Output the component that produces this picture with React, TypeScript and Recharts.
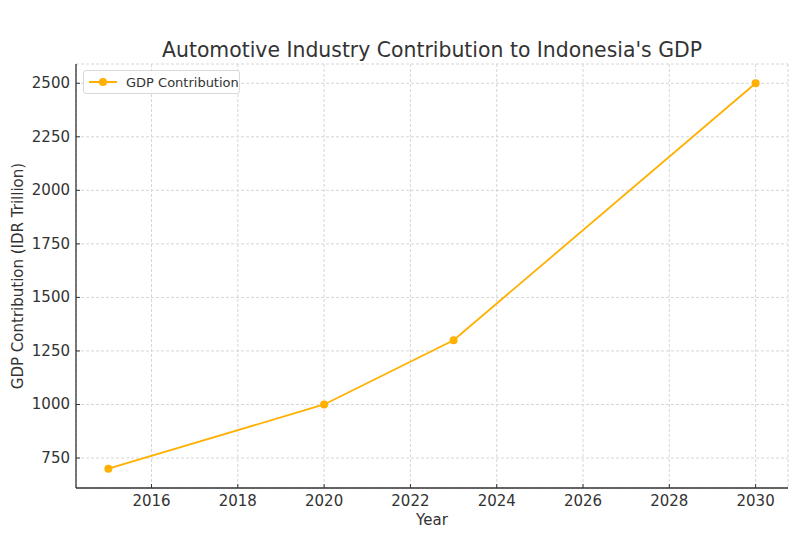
import React from "react";
import { LineChart, Line, XAxis, YAxis, CartesianGrid } from "recharts";

// GDP contribution of the automotive industry (IDR trillion)
const years = [2015, 2020, 2023, 2030];
const gdpValues = [700, 1000, 1300, 2500];
const xTicks = [2016, 2018, 2020, 2022, 2024, 2026, 2028, 2030];
const yTicks = [750, 1000, 1250, 1500, 1750, 2000, 2250, 2500];

const data = years.map((year, i) => ({ year, gdp: gdpValues[i] }));

const FONT = "DejaVu Sans, sans-serif";
const LINE_COLOR = "#FFB000";
const TEXT = "#333333";

const YTick = (props: any) => {
  const { x, y, payload } = props;
  return (
    <g>
      <line x1={x + 6} x2={x + 10} y1={y} y2={y} stroke="#333" strokeWidth={1} />
      <text x={x} y={y} dy={5} textAnchor="end" fontSize={15} fontFamily={FONT} fill={TEXT}>
        {payload.value}
      </text>
    </g>
  );
};

const XTick = (props: any) => {
  const { x, y, payload } = props;
  return (
    <g>
      <line x1={x} x2={x} y1={y - 4} y2={y - 8} stroke="#333" strokeWidth={1} />
      <text x={x} y={y} dy={14} textAnchor="middle" fontSize={15} fontFamily={FONT} fill={TEXT}>
        {payload.value}
      </text>
    </g>
  );
};

// matplotlib-style legend box, top-left inside the plot
const LegendBox = () => (
  <div
    style={{
      position: "absolute",
      left: 83,
      top: 70,
      width: 157,
      height: 24,
      border: "1px solid #d9d9d9",
      borderRadius: 3,
      background: "rgba(255,255,255,0.85)",
      display: "flex",
      alignItems: "center",
      fontFamily: FONT,
      fontSize: 13,
      color: TEXT,
      whiteSpace: "nowrap",
      boxSizing: "border-box",
    }}
  >
    <svg width={30} height={12} style={{ marginLeft: 4, marginRight: 8 }}>
      <line x1={1} x2={29} y1={6} y2={6} stroke={LINE_COLOR} strokeWidth={2} />
      <circle cx={15} cy={6} r={4} fill={LINE_COLOR} />
    </svg>
    GDP Contribution
  </div>
);

export default function App() {
  return (
    <div style={{ position: "absolute", left: 0, top: 0, width: 800, height: 550, background: "#fff" }}>
      <LineChart width={800} height={550} data={data} margin={{ top: 64, right: 12, bottom: 0, left: 0 }}>
        <text x={432} y={57} textAnchor="middle" fontSize={20.4} fontFamily={FONT} fill={TEXT}>
          Automotive Industry Contribution to Indonesia's GDP
        </text>
        <CartesianGrid stroke="#d6d6d6" strokeDasharray="3 2" />
        <XAxis
          dataKey="year"
          type="number"
          domain={[2014.25, 2030.75]}
          ticks={xTicks}
          tick={<XTick />}
          tickLine={false}
          tickSize={0}
          tickMargin={4}
          height={62}
          axisLine={{ stroke: "#333", strokeWidth: 1.3 }}
          label={{ value: "Year", position: "insideBottom", offset: 25, fontSize: 15, fontFamily: FONT, fill: TEXT }}
        />
        <YAxis
          type="number"
          domain={[610, 2590]}
          ticks={yTicks}
          tick={<YTick />}
          tickLine={false}
          tickSize={0}
          tickMargin={6}
          width={76}
          axisLine={{ stroke: "#333", strokeWidth: 1.3 }}
          label={{
            value: "GDP Contribution (IDR Trillion)",
            angle: -90,
            position: "insideLeft",
            offset: 18,
            style: { textAnchor: "middle" },
            fontSize: 15,
            fontFamily: FONT,
            fill: TEXT,
          }}
        />
        <Line
          type="linear"
          dataKey="gdp"
          name="GDP Contribution"
          stroke={LINE_COLOR}
          strokeWidth={1.8}
          dot={{ r: 4, fill: LINE_COLOR, stroke: LINE_COLOR, strokeWidth: 0 }}
          isAnimationActive={false}
        />
      </LineChart>
      <LegendBox />
    </div>
  );
}
